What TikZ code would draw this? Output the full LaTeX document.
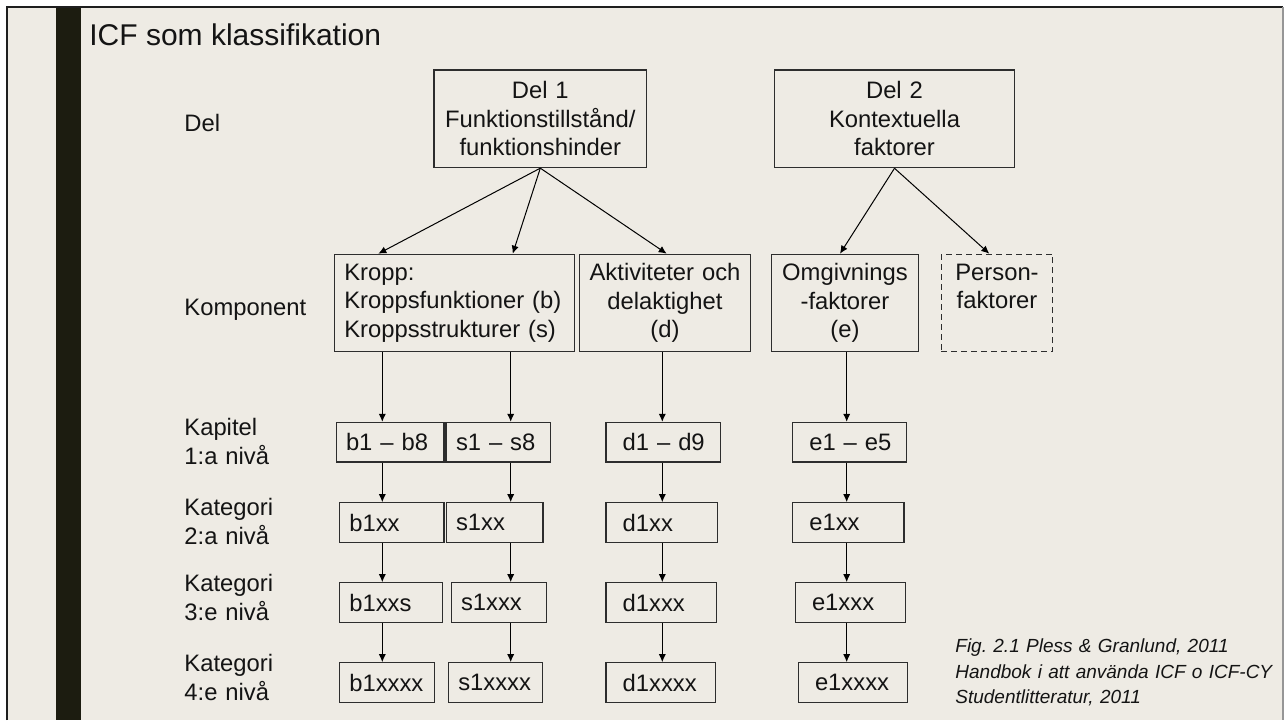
\documentclass[tikz,border=0pt]{standalone}
\usepackage{fontspec}
\setmainfont{Liberation Sans}
\usetikzlibrary{arrows.meta}
\definecolor{bg}{RGB}{238,235,228}
\definecolor{barc}{RGB}{28,28,16}
\definecolor{txt}{RGB}{20,20,20}
\definecolor{boxc}{RGB}{45,45,45}
\definecolor{framec}{RGB}{30,30,30}
\definecolor{framer}{RGB}{150,150,150}
\newcommand{\bodyfont}{\fontsize{11.9}{14.2}\selectfont}
\frenchspacing
\begin{document}
\begin{tikzpicture}[x=0.5pt,y=-0.5pt,
  every node/.style={text=txt},
  lbl/.style={font=\bodyfont, inner sep=0pt, anchor=base west, text width=70pt, align=left},
  box/.style={draw=boxc, line width=0.6pt, font=\bodyfont, inner ysep=0pt},
  bigbox/.style={box, minimum height=48.7pt},
  cell/.style={box, align=left, minimum height=19.8pt},
  arr/.style={line width=0.5pt, -{Latex[length=4pt,width=3.6pt]}}
]
\useasboundingbox (0,0) rectangle (1284,720);
% slide background and frame
\fill[white] (0,0) rectangle (1284,720);
\fill[bg] (7,7) rectangle (1283,720);
\fill[barc] (56,7) rectangle (81,720);
\draw[framec, line width=1pt] (7,720) -- (7,7) -- (1283,7);
\draw[framer, line width=0.6pt] (1283,7) -- (1283,720);

% title
\node[font=\fontsize{15}{18}\selectfont, inner sep=0pt, anchor=base west] (title) at (89,45.7) {ICF som klassifikation};

% row labels
\node[lbl] (ldel) at (184,131.7) {Del};
\node[lbl] (lkomp) at (184,315.7) {Komponent};
\node[lbl] (lkap) at (184,435.7) {Kapitel\\1:a nivå};
\node[lbl] (lkat2) at (184,515.7) {Kategori\\2:a nivå};
\node[lbl] (lkat3) at (184,591.7) {Kategori\\3:e nivå};
\node[lbl] (lkat4) at (184,671.7) {Kategori\\4:e nivå};

% Del level
\node[bigbox, minimum width=106.35pt, minimum height=48.75pt, inner xsep=2pt, text width=102.35pt, align=center] (del1) at (540.3,118.8) {Del 1\\Funktionstillstånd/\\funktionshinder};
\node[bigbox, minimum width=120.2pt, minimum height=48.85pt, inner xsep=2pt, text width=116.2pt, align=center] (del2) at (894.5,118.8) {Del 2\\Kontextuella\\faktorer};

% Komponent level
\node[bigbox, minimum width=120pt, inner xsep=5pt, text width=110pt, align=left] (kropp) at (454.3,303) {Kropp:\\Kroppsfunktioner (b)\\Kroppsstrukturer (s)};
\node[bigbox, minimum width=85.7pt, inner xsep=2pt, text width=81.7pt, align=center] (aktiv) at (665,303) {Aktiviteter och\\delaktighet\\(d)};
\node[bigbox, minimum width=73.7pt, inner xsep=2pt, text width=69.7pt, align=center] (omgiv) at (845,303) {Omgivnings\\-faktorer\\(e)};
\node[bigbox, dashed, dash pattern=on 3pt off 2pt, minimum width=55.7pt, inner xsep=2pt, text width=51.7pt, align=center] (person) at (997,303) {Person-\\faktorer\\\vphantom{(}};

% row 1
\node[cell, minimum width=53.65pt, inner xsep=4.65pt, text width=44.35pt] (b18) at (390.35,442.2) {\mbox{b1 -- b8}};
\node[cell, minimum width=52.15pt, inner xsep=5pt, text width=42.15pt] (s18) at (498.15,442.2) {\mbox{s1 -- s8}};
\node[cell, minimum width=57.15pt, inner xsep=8.35pt, text width=40.45pt] (d19) at (663.15,442.2) {\mbox{d1 -- d9}};
\node[cell, minimum width=57pt, inner xsep=8.3pt, text width=40.4pt] (e15) at (849.7,442.2) {\mbox{e1 -- e5}};
% row 2
\node[cell, minimum width=52.35pt, inner xsep=5pt, text width=42.35pt] (b1xx) at (391.65,522.5) {b1xx};
\node[cell, minimum width=48.35pt, inner xsep=4.85pt, text width=38.65pt] (s1xx) at (494.65,522.5) {s1xx};
\node[cell, minimum width=55.85pt, inner xsep=8.35pt, text width=39.15pt] (d1xx) at (661.85,522.5) {d1xx};
\node[cell, minimum width=55.65pt, inner xsep=8.3pt, text width=39.05pt] (e1xx) at (848.35,522.5) {e1xx};
% row 3
\node[cell, minimum width=51.7pt, inner xsep=5pt, text width=41.7pt] (b1xxs) at (391,602.5) {b1xxs};
\node[cell, minimum width=47.7pt, inner xsep=4.85pt, text width=38pt] (s1xxx) at (499,602.5) {s1xxx};
\node[cell, minimum width=55.35pt, inner xsep=8.35pt, text width=38.65pt] (d1xxx) at (661.35,602.5) {d1xxx};
\node[cell, minimum width=55pt, inner xsep=8.35pt, text width=38.3pt] (e1xxx) at (850.3,602.5) {e1xxx};
% row 4
\node[cell, minimum width=47.7pt, minimum height=20pt, inner xsep=5pt, text width=37.7pt] (b1xxxx) at (387,682.7) {b1xxxx};
\node[cell, minimum width=47.2pt, minimum height=20pt, inner xsep=5pt, text width=37.2pt] (s1xxxx) at (495.5,682.7) {s1xxxx};
\node[cell, minimum width=54.65pt, minimum height=20pt, inner xsep=8.35pt, text width=37.95pt] (d1xxxx) at (660.65,682.7) {d1xxxx};
\node[cell, minimum width=54.5pt, minimum height=20pt, inner xsep=8.35pt, text width=37.8pt] (e1xxxx) at (852.8,682.7) {e1xxxx};

% citation
\node[font=\fontsize{9.5}{12.65}\selectfont\itshape, inner sep=0pt, anchor=base west, text width=162pt, align=left] (cite) at (955,652.7) {Fig. 2.1 Pless \& Granlund, 2011\\\mbox{Handbok i att använda ICF o ICF-CY}\\Studentlitteratur, 2011};

% arrow target columns
\coordinate (t1) at (378.3,0);
\coordinate (t2) at (512.7,0);
\coordinate (t3) at (666.7,0);
\coordinate (t4) at (840,0);
\coordinate (t5) at (989.3,0);
\coordinate (cb) at (382.3,0);
\coordinate (cs) at (510.7,0);
\coordinate (cd) at (662.3,0);
\coordinate (ce) at (846.7,0);

% Del -> Komponent
\draw[arr] (del1.south) -- (kropp.north -| t1);
\draw[arr] (del1.south) -- (kropp.north -| t2);
\draw[arr] (del1.south) -- (aktiv.north -| t3);
\draw[arr] (del2.south) -- (omgiv.north -| t4);
\draw[arr] (del2.south) -- (person.north -| t5);

% columns
\draw[arr] (kropp.south -| cb) -- (b18.north -| cb);
\draw[arr] (b18.south -| cb) -- (b1xx.north -| cb);
\draw[arr] (b1xx.south -| cb) -- (b1xxs.north -| cb);
\draw[arr] (b1xxs.south -| cb) -- (b1xxxx.north -| cb);

\draw[arr] (kropp.south -| cs) -- (s18.north -| cs);
\draw[arr] (s18.south -| cs) -- (s1xx.north -| cs);
\draw[arr] (s1xx.south -| cs) -- (s1xxx.north -| cs);
\draw[arr] (s1xxx.south -| cs) -- (s1xxxx.north -| cs);

\draw[arr] (aktiv.south -| cd) -- (d19.north -| cd);
\draw[arr] (d19.south -| cd) -- (d1xx.north -| cd);
\draw[arr] (d1xx.south -| cd) -- (d1xxx.north -| cd);
\draw[arr] (d1xxx.south -| cd) -- (d1xxxx.north -| cd);

\draw[arr] (omgiv.south -| ce) -- (e15.north -| ce);
\draw[arr] (e15.south -| ce) -- (e1xx.north -| ce);
\draw[arr] (e1xx.south -| ce) -- (e1xxx.north -| ce);
\draw[arr] (e1xxx.south -| ce) -- (e1xxxx.north -| ce);
\end{tikzpicture}
\end{document}
